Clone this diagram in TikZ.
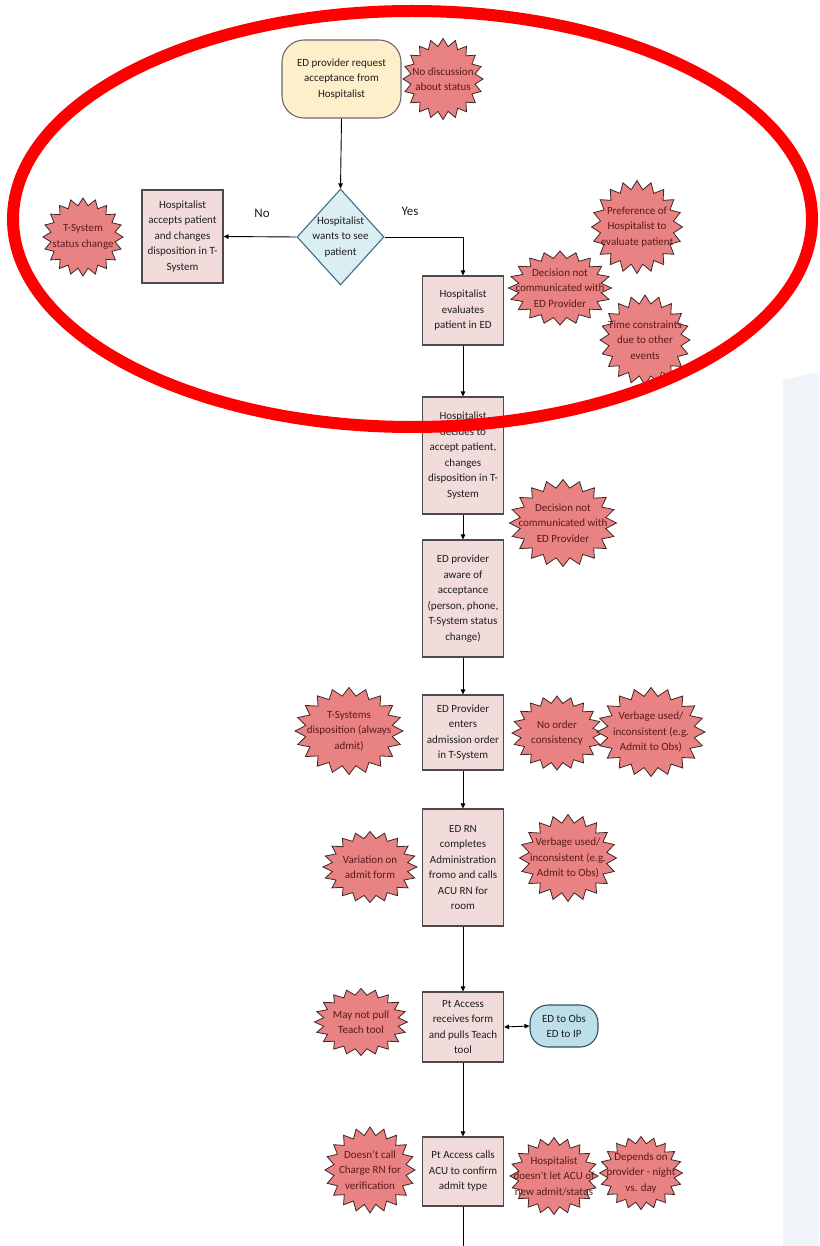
\documentclass[tikz,border=0pt]{standalone}
\usepackage{fontspec}
\setmainfont{Carlito}
\usetikzlibrary{arrows.meta,shapes.geometric}

\definecolor{boxfill}{HTML}{F2DCDB}
\definecolor{boxline}{HTML}{4F4A4A}
\definecolor{startfill}{HTML}{FDEFC9}
\definecolor{startline}{HTML}{6A6A6A}
\definecolor{diafill}{HTML}{DBEEF4}
\definecolor{dialine}{HTML}{3F6F86}
\definecolor{obsfill}{HTML}{BCDFEA}
\definecolor{obsline}{HTML}{2E5266}
\definecolor{burstfill}{HTML}{E98282}
\definecolor{burstline}{HTML}{3E2626}
\definecolor{bursttxt}{HTML}{5A1A1A}
\definecolor{txt}{HTML}{1E1E1E}
\definecolor{panelfill}{HTML}{EEF4F8}
\definecolor{ring}{HTML}{FF0000}

\tikzset{
  base/.style={font=\fontsize{11}{15.5}\selectfont, text=txt, align=center, inner sep=0pt},
  procbox/.style={base, draw=boxline, fill=boxfill, line width=1.1pt, minimum width=81, rectangle},
  startbox/.style={base, draw=startline, fill=startfill, line width=1.1pt, rounded corners=22pt, minimum width=119, minimum height=78},
  obsbox/.style={base, draw=obsline, fill=obsfill, line width=1.1pt, rounded corners=18pt, minimum width=68, minimum height=42},
  decision/.style={shape=diamond, draw=dialine, fill=diafill, line width=1.1pt, inner sep=0pt, minimum width=87, minimum height=96},
  dectext/.style={base},
  burst/.style={fill=burstfill, draw=burstline, line width=0.8pt, line join=miter},
  bursttext/.style={base, text=bursttxt},
  arr/.style={draw=black, line width=0.9pt, -{Triangle[length=5pt,width=4.5pt]}},
  dblarr/.style={draw=black, line width=0.9pt, {Triangle[length=5pt,width=4.5pt]}-{Triangle[length=5pt,width=4.5pt]}},
  plain/.style={draw=black, line width=0.9pt},
  branch/.style={font=\fontsize{13}{15}\selectfont, text=txt, inner sep=0pt},
}

% starburst: name, centre x, centre y, width, height, text
\newcommand\burstnode[6]{%
  \filldraw[burst] plot[variable=\k, samples at={0,...,39}]
    ({#2+#4/2*(1-0.19*mod(\k,2))*cos(\k*9)},{#3+#5/2*(1-0.19*mod(\k,2))*sin(\k*9)}) -- cycle;
  \node[bursttext] (#1) at (#2,#3) {#6};}

\begin{document}
\begin{tikzpicture}[x=1pt,y=-1pt]
\useasboundingbox (0,0) rectangle (819,1246);

% pale side panel
\fill[panelfill] (783,380) -- (819,372) -- (819,1246) -- (783,1246) -- cycle;

% main process flow
\node[startbox] (start) at (341.5,79) {ED provider request\\acceptance from\\Hospitalist};
\node[decision] (dia) at (340.5,237) {};
\node[dectext] (diatext) at (340.5,237) {Hospitalist\\wants to see\\patient};
\node[procbox, minimum width=81, minimum height=93] (haccept) at (182.5,236.5) {Hospitalist\\accepts patient\\and changes\\disposition in T-\\System};
\node[procbox, minimum height=69] (heval) at (463,310.5) {Hospitalist\\evaluates\\patient in ED};
\node[procbox, minimum height=117] (hdecide) at (463,455.5) {Hospitalist\\decides to\\accept patient,\\changes\\disposition in T-\\System};
\node[procbox, minimum height=117] (aware) at (463,598.5) {ED provider\\aware of\\acceptance\\(person, phone,\\T-System status\\change)};
\node[procbox, minimum height=75] (enters) at (463,732.5) {ED Provider\\enters\\admission order\\in T-System};
\node[procbox, minimum height=117] (rncall) at (463,867.5) {ED RN\\completes\\Administration\\fromo and calls\\ACU RN for\\room};
\node[procbox, minimum height=70] (ptacc) at (463,1027) {Pt Access\\receives form\\and pulls Teach\\tool};
\node[obsbox] (obsip) at (564,1026) {ED to Obs\\ED to IP};
\node[procbox, minimum height=69] (ptcall) at (463,1171.5) {Pt Access calls\\ACU to confirm\\admit type};
\coordinate (tail) at (463,1246);

% connectors
\draw[arr] (start.south) -- (dia.north);
\draw[arr] (dia.west) -- (haccept.east);
\draw[arr] (dia.east) -| (heval.north);
\draw[arr] (heval.south) -- (hdecide.north);
\draw[arr] (hdecide.south) -- (aware.north);
\draw[arr] (aware.south) -- (enters.north);
\draw[arr] (enters.south) -- (rncall.north);
\draw[arr] (rncall.south) -- (ptacc.north);
\draw[dblarr] (ptacc.east) -- (obsip.west);
\draw[arr] (ptacc.south) -- (ptcall.north);
\draw[plain] (ptcall.south) -- (tail);

\node[branch] (nolabel) at (262,213) {No};
\node[branch] (yeslabel) at (410,211) {Yes};

% issue starbursts
\burstnode{sNoDisc}{443}{79}{80}{81}{No discussion\\about status}
\burstnode{sTstat}{83}{237}{80}{78}{T-System\\status change}
\burstnode{sDecA}{560}{288}{103}{74}{Decision not\\communicated with\\ED Provider}
\burstnode{sPref}{637}{227}{91}{93}{Preference of\\Hospitalist to\\evaluate patient}
\burstnode{sTime}{645}{340}{90}{90}{Time constraints\\due to other\\events}
\burstnode{sDecB}{563}{523}{107}{87}{Decision not\\communicated with\\ED Provider}
\burstnode{sTdisp}{349}{731}{108}{87}{T-Systems\\disposition (always\\admit)}
\burstnode{sNoOrd}{557}{733}{90}{74}{No order\\consistency}
\burstnode{sVerbA}{651}{732}{108}{89}{Verbage used/\\inconsistent (e.g.\\Admit to Obs)}
\burstnode{sVar}{370}{867}{94}{71}{Variation on\\admit form}
\burstnode{sVerbB}{568}{858}{97}{87}{Verbage used/\\inconsistent (e.g.\\Admit to Obs)}
\burstnode{sTeach}{361}{1022}{93}{67}{May not pull\\Teach tool}
\burstnode{sCharge}{370}{1170}{90}{86}{Doesn't call\\Charge RN for\\verification}
\burstnode{sLetACU}{554}{1176}{88}{77}{Hospitalist\\doesn't let ACU of\\new admit/status}
\burstnode{sDepends}{641}{1173}{83}{73}{Depends on\\provider - night\\vs. day}

% highlight ring over the upper part
\draw[ring, line width=12pt] (412.5,219) ellipse [x radius=399.5, y radius=208];
\end{tikzpicture}
\end{document}
